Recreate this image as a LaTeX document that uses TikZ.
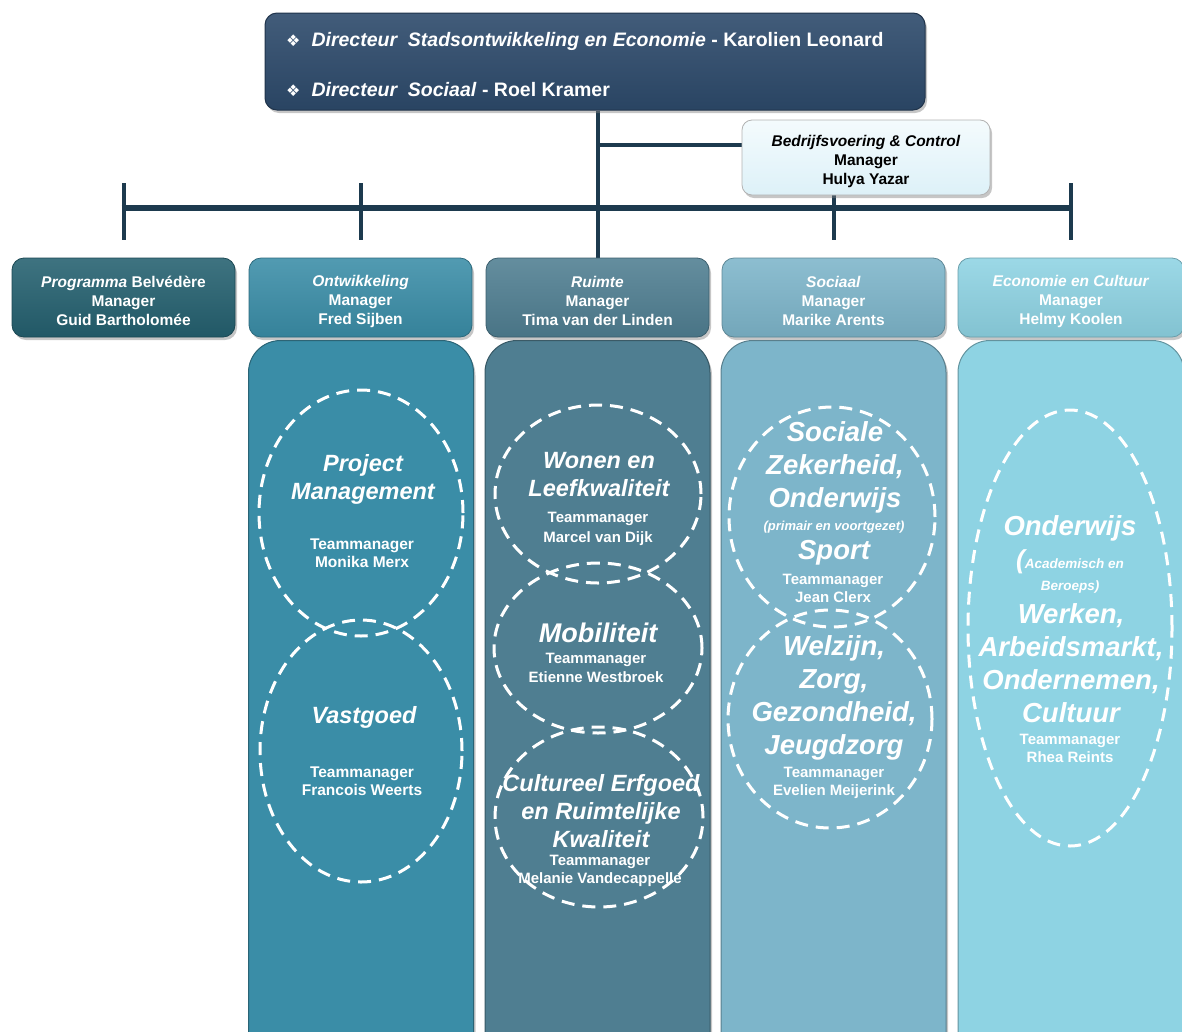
\documentclass[tikz,border=0pt]{standalone}
\usepackage{fontspec}
\setmainfont{Liberation Sans}
\newfontfamily\dejavu{DejaVu Sans}
\usetikzlibrary{shapes.geometric,shadows,backgrounds}
\newcommand{\myfs}[2]{\fontsize{#1}{#2}\selectfont}
\newcommand{\hdrstrut}{\rule{0pt}{19pt}}
\definecolor{navy}{HTML}{2D4A6B}
\definecolor{linec}{HTML}{1D3A4E}
\definecolor{cPro}{HTML}{24606F}
\definecolor{cOnt}{HTML}{3A8DA7}
\definecolor{cRui}{HTML}{4F7E91}
\definecolor{cSoc}{HTML}{7DB5CA}
\definecolor{cEco}{HTML}{8ED3E3}
\definecolor{bcTop}{HTML}{F4FBFD}
\definecolor{bcBot}{HTML}{DDF1F8}
\tikzset{
  shad/.style={drop shadow={shadow xshift=2pt, shadow yshift=-3pt, opacity=0.45}},
  topbox/.style={rounded corners=12pt, minimum width=660pt, minimum height=97pt, inner sep=0pt,
    top color=navy!90!white, bottom color=navy!92!black, draw=navy!70!black, line width=1pt, shad},
  toptxt/.style={anchor=west, inner sep=0pt, text=white, font=\myfs{19.5}{22}\bfseries},
  bcbox/.style={rounded corners=10pt, minimum width=248pt, minimum height=75pt, inner sep=0pt,
    top color=bcTop, bottom color=bcBot, draw=gray!60, line width=0.8pt, shad,
    align=center, font=\myfs{15.5}{19}\bfseries},
  hdr/.style={rounded corners=12pt, minimum width=223pt, minimum height=79pt, inner sep=0pt,
    top color=#1!88!white, bottom color=#1!92!black, draw=#1!75!black, line width=0.8pt, shad,
    text=white, align=center, font=\myfs{15.5}{19}\bfseries},
  body/.style={rounded corners=32pt, minimum width=225pt, minimum height=740pt, inner sep=0pt,
    anchor=north, fill=#1, draw=#1!70!black, line width=1pt, shad},
  ell/.style={ellipse, draw=white, line width=3pt, dash pattern=on 13pt off 8pt, inner sep=0pt},
  big/.style={text=white, align=center, inner sep=0pt, font=\myfs{23.5}{28}\bfseries\itshape},
  huge/.style={text=white, align=center, inner sep=0pt, font=\myfs{27.5}{33}\bfseries\itshape},
  mgr/.style={text=white, align=center, inner sep=0pt, font=\myfs{15.5}{18}\bfseries},
  small/.style={text=white, align=center, inner sep=0pt, font=\myfs{13}{22}\bfseries\itshape},
  conn/.style={draw=linec, line width=4pt},
}
\begin{document}
\begin{tikzpicture}[x=1pt,y=-1pt]
\useasboundingbox (0,0) rectangle (1182,1031);
\clip (0,0) rectangle (1182,1031);

% bodies
\node[body=cOnt] (ontB) at (361,340) {};
\node[body=cRui] (ruiB) at (597.5,340) {};
\node[body=cSoc] (socB) at (833.5,340) {};
\node[body=cEco, minimum width=226pt] (ecoB) at (1071,340) {};

% top box
\node[topbox] (top) at (595,61.5) {};
\node[toptxt] (t1) at (286,41) {{\dejavu\mdseries\myfs{16}{16}❖}\hspace{11pt}\textit{Directeur\ \ Stadsontwikkeling en Economie} - Karolien Leonard};
\node[toptxt] (t2) at (286,90) {{\dejavu\mdseries\myfs{16}{16}❖}\hspace{11pt}\textit{Directeur\ \ Sociaal} - Roel Kramer};

% staff box
\node[bcbox] (bc) at (866,157.5) {\hdrstrut\textit{Bedrijfsvoering \& Control}\hspace{10pt}\\Manager\\Hulya Yazar};

% headers
\node[hdr=cPro] (proH) at (123.5,297.5) {\hdrstrut\textit{Programma} Belvédère\\Manager\\Guid Bartholomée};
\node[hdr=cOnt] (ontH) at (360.5,297.5) {\hdrstrut\textit{Ontwikkeling}\\Manager\\Fred Sijben};
\node[hdr=cRui] (ruiH) at (597.5,297.5) {\hdrstrut\textit{Ruimte}\\Manager\\Tima van der Linden};
\node[hdr=cSoc] (socH) at (833.5,297.5) {\hdrstrut\textit{Sociaal}\\Manager\\Marike Arents};
\node[hdr=cEco, minimum width=226pt] (ecoH) at (1071,297.5) {\hdrstrut\textit{Economie en Cultuur}\\Manager\\Helmy Koolen};

% connectors
\coordinate (yb) at (0,145);
\coordinate (ybar) at (0,208);
\coordinate (ytt) at (0,183);
\coordinate (ytb) at (0,240);
\begin{pgfonlayer}{background}
\draw[conn] (top.south -| ruiH.north) -- (ruiH.north);
\draw[conn] (ruiH.north |- yb) -- (bc.west |- yb);
\draw[conn, line width=6pt] ([xshift=-2pt]proH.north |- ybar) -- ([xshift=2pt]ecoH.north |- ybar);
\draw[conn] (proH.north |- ytt) -- (proH.north |- ytb);
\draw[conn] (ontH.north |- ytt) -- (ontH.north |- ytb);
\draw[conn] (socH.north |- ytt) -- (socH.north |- ytb);
\draw[conn] (ecoH.north |- ytt) -- (ecoH.north |- ytb);
\end{pgfonlayer}

% ellipses
\node[ell, minimum width=204pt, minimum height=246pt] (e1) at (361,513) {};
\node[ell, minimum width=202pt, minimum height=262pt] (e2) at (361,751) {};
\node[ell, minimum width=206pt, minimum height=178pt] (e3) at (598,494) {};
\node[ell, minimum width=208pt, minimum height=170pt] (e4) at (598,648) {};
\node[ell, minimum width=208pt, minimum height=180pt] (e5) at (599,817) {};
\node[ell, minimum width=206pt, minimum height=220pt] (e6) at (832,517) {};
\node[ell, minimum width=204pt, minimum height=218pt] (e7) at (830,719) {};
\node[ell, minimum width=204pt, minimum height=436pt] (e8) at (1070,628) {};

% texts Ontwikkeling
\node[big] (pmT) at (363,479) {Project\\Management};
\node[mgr] (pmM) at (362,553) {Teammanager\\Monika Merx};
\node[big] (vgT) at (364,717) {Vastgoed};
\node[mgr] (vgM) at (362,781) {Teammanager\\Francois Weerts};
% texts Ruimte
\node[big] (wlT) at (599,475) {Wonen en\\Leefkwaliteit};
\node[mgr, font=\myfs{15}{20}\bfseries] (wlM) at (598,529) {Teammanager\\Marcel van Dijk};
\node[big, font=\myfs{27}{28}\bfseries\itshape] (mbT) at (598,633) {Mobiliteit};
\node[mgr, font=\myfs{15}{19}\bfseries] (mbM) at (596,668) {Teammanager\\Etienne Westbroek};
\node[big] (ceT) at (601,811) {Cultureel Erfgoed\\en Ruimtelijke\\Kwaliteit};
\node[mgr, font=\myfs{15}{18}\bfseries] (ceM) at (600,871) {Teammanager\\Melanie Vandecappelle};
% texts Sociaal
\node[huge] (szT) at (835,467) {Sociale\\Zekerheid,\\Onderwijs};
\node[small] (szP) at (834,527) {(primair en voortgezet)};
\node[huge] (szS) at (834,553) {Sport};
\node[mgr, font=\myfs{15}{18}\bfseries] (szM) at (833,588) {Teammanager\\Jean Clerx};
\node[huge] (wzT) at (834,697.5) {Welzijn,\\Zorg,\\Gezondheid,\\Jeugdzorg};
\node[mgr, font=\myfs{15}{18}\bfseries] (wzM) at (834,783) {Teammanager\\Evelien Meijerink};
% texts Economie
\node[huge] (owT) at (1070,528) {Onderwijs};
\node[small, font=\myfs{13.5}{22}\bfseries\itshape] (owP) at (1070,571) {{\myfs{26}{22}(}Academisch en\\Beroeps)};
\node[huge] (wkT) at (1071,663) {Werken,\\Arbeidsmarkt,\\Ondernemen,\\Cultuur};
\node[mgr, font=\myfs{15}{18}\bfseries] (wkM) at (1070,748) {Teammanager\\Rhea Reints};
\end{tikzpicture}
\end{document}
